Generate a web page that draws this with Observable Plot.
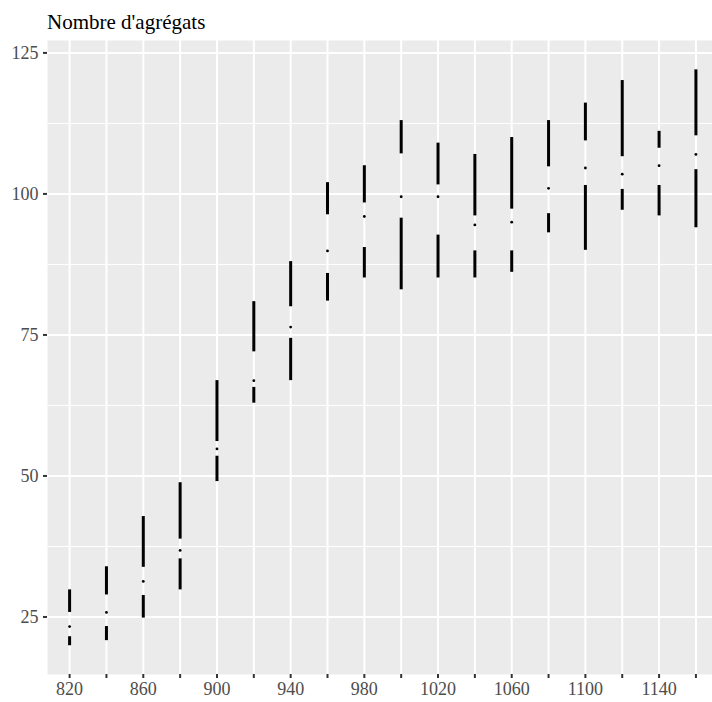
<!DOCTYPE html>
<html><head><meta charset="utf-8">
<script src="https://cdn.jsdelivr.net/npm/d3@7"></script>
<script src="https://cdn.jsdelivr.net/npm/@observablehq/plot@0.6"></script>
<style>
body{margin:0;background:#fff;}
#title{position:relative;height:40px;width:712px;font-family:"Liberation Serif",serif;font-size:21px;color:#000;}
#title span{position:absolute;left:47px;top:12px;line-height:21px;white-space:nowrap;}
#chart svg{display:block;}
</style></head><body>
<div id="title"><span>Nombre d'agrégats</span></div>
<div id="chart"></div>
<script>
const xs     = [820, 840, 860, 880, 900, 920, 940, 960, 980, 1000, 1020, 1040, 1060, 1080, 1100, 1120, 1140, 1160];
const ymin   = [19.9, 20.8, 24.8, 29.8, 49.0, 62.9, 66.9, 81.0, 85.1, 83.0, 85.1, 85.1, 86.1, 93.1, 90.0, 97.1, 96.1, 94.0];
const lower  = [21.5, 23.3, 28.8, 35.3, 53.5, 65.7, 74.4, 85.9, 90.5, 95.7, 92.7, 89.9, 89.9, 96.5, 101.5, 100.8, 101.5, 104.3];
const middle = [23.3, 25.8, 31.3, 36.8, 54.8, 66.9, 76.4, 89.9, 96.0, 99.5, 99.5, 94.5, 95.0, 101.0, 104.6, 103.5, 105.0, 107.0];
const upper  = [25.8, 28.9, 33.8, 38.8, 56.1, 72.0, 80.0, 96.3, 98.4, 107.1, 101.6, 96.1, 97.3, 104.8, 109.4, 106.6, 108.1, 110.3];
const ymax   = [29.8, 33.9, 42.8, 48.8, 66.9, 80.9, 88.0, 102.0, 105.0, 113.0, 109.0, 107.0, 110.0, 113.0, 116.1, 120.1, 111.1, 122.0];

const xTicks = [820, 840, 860, 880, 900, 920, 940, 960, 980, 1000, 1020, 1040, 1060, 1080, 1100, 1120, 1140, 1160];
const yMajor = [25, 50, 75, 100, 125];
const yMinor = [37.5, 62.5, 87.5, 112.5];

const data = xs.map((x, i) => ({x, ymin: ymin[i], lower: lower[i], middle: middle[i], upper: upper[i], ymax: ymax[i]}));

const plot = Plot.plot({
  width: 712, height: 662,
  marginTop: 0, marginBottom: 28, marginLeft: 47, marginRight: 0,
  style: {fontFamily: "'Liberation Serif', serif", fontSize: "18px", background: "#fff", overflow: "visible"},
  x: {domain: [808, 1169]},
  y: {domain: [14.8, 127.2]},
  marks: [
    Plot.frame({fill: "#ebebeb", stroke: null}),
    Plot.ruleY(yMinor, {stroke: "#fff", strokeWidth: 1}),
    Plot.ruleY(yMajor, {stroke: "#fff", strokeWidth: 2}),
    Plot.ruleX(xTicks, {stroke: "#fff", strokeWidth: 2}),
    Plot.ruleX(data, {x: "x", y1: "ymin", y2: "lower", stroke: "#000", strokeWidth: 3}),
    Plot.ruleX(data, {x: "x", y1: "upper", y2: "ymax", stroke: "#000", strokeWidth: 3}),
    Plot.dot(data, {x: "x", y: "middle", r: 1.4, fill: "#000", stroke: null}),
    Plot.axisX({ticks: xTicks, tickFormat: d => (d % 40 === 20 ? String(d) : ""), tickSize: 4, tickPadding: 4, stroke: "#333", strokeWidth: 2, color: "#4d4d4d", label: null}),
    Plot.axisY({ticks: yMajor, tickSize: 4, tickPadding: 5, stroke: "#333", strokeWidth: 2, color: "#4d4d4d", label: null})
  ]
});
document.getElementById("chart").appendChild(plot);
</script>
</body></html>
